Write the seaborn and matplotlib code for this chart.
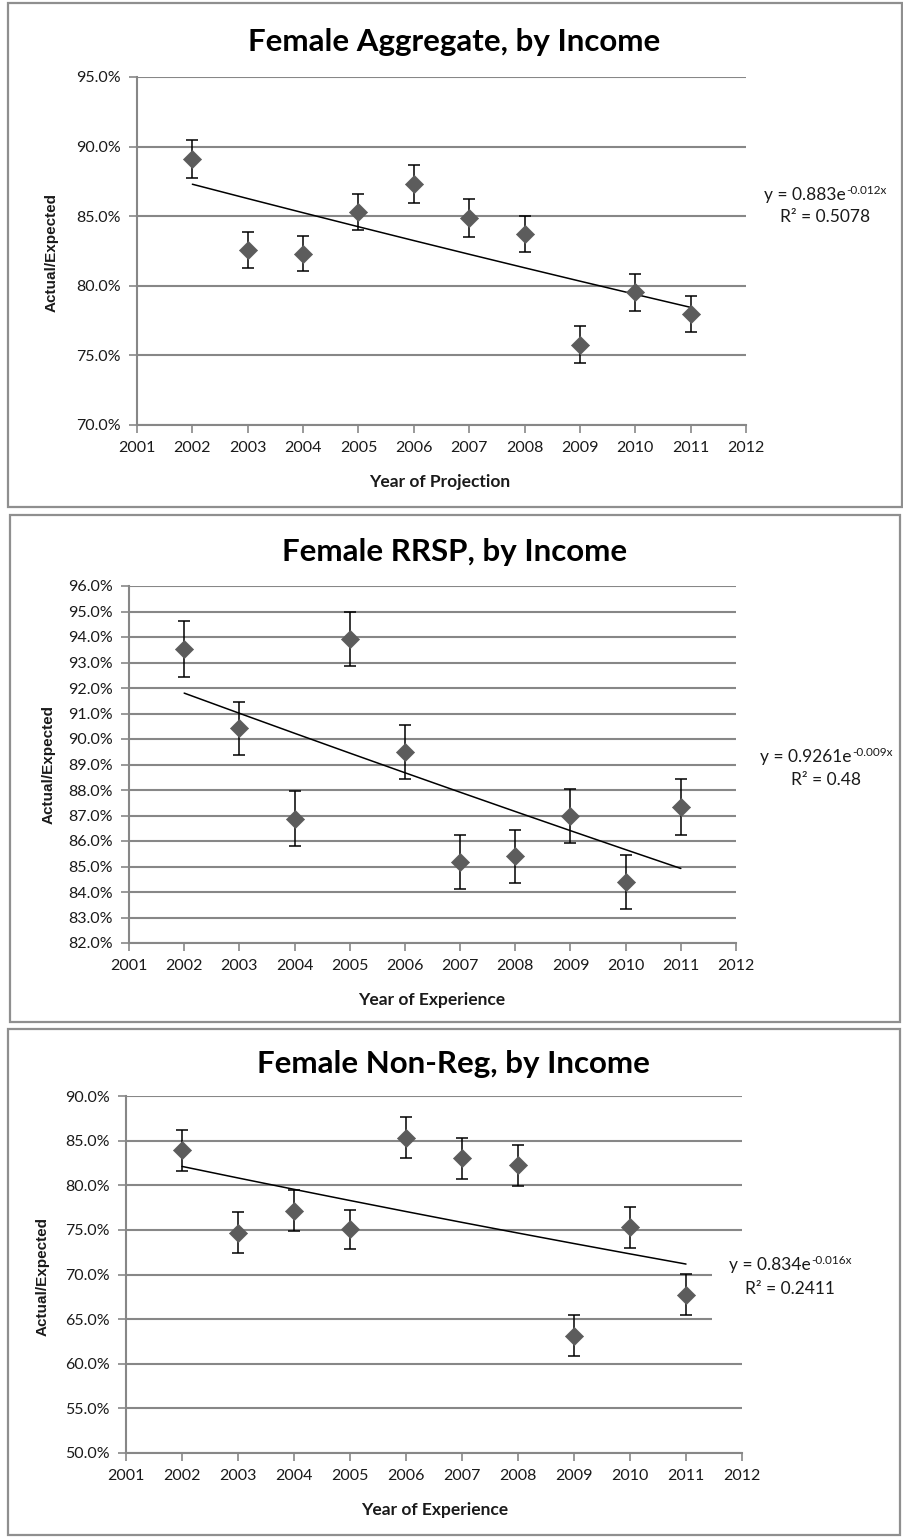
import numpy as np
import pandas as pd
import matplotlib
matplotlib.use("Agg")
import matplotlib.pyplot as plt
from matplotlib.patches import Rectangle
from matplotlib.ticker import FuncFormatter
import seaborn as sns

# ---------------- data ----------------
years = [2002, 2003, 2004, 2005, 2006, 2007, 2008, 2009, 2010, 2011]

agg_vals = [89.1, 82.6, 82.3, 85.3, 87.3, 84.85, 83.75, 75.75, 79.55, 78.0]
agg_err = [1.35, 1.3, 1.25, 1.3, 1.35, 1.35, 1.3, 1.33, 1.33, 1.3]

rrsp_vals = [93.52, 90.42, 86.87, 93.93, 89.5, 85.17, 85.4, 86.98, 84.4, 87.33]
rrsp_err = [1.1, 1.05, 1.08, 1.07, 1.06, 1.05, 1.05, 1.05, 1.07, 1.1]

nonreg_vals = [83.9, 74.7, 77.15, 75.05, 85.35, 83.05, 82.25, 63.15, 75.3, 67.75]
nonreg_err = [2.3, 2.3, 2.3, 2.2, 2.3, 2.3, 2.3, 2.3, 2.3, 2.3]

titles = ["Female Aggregate, by Income", "Female RRSP, by Income", "Female Non-Reg, by Income"]
xlabels = ["Year of Projection", "Year of Experience", "Year of Experience"]
ylabel = "Actual/Expected"
eq_main = ["y = 0.883e", "y = 0.9261e", "y = 0.834e"]
eq_sup = ["-0.012x", "-0.009x", "-0.016x"]
r2_texts = ["R² = 0.5078", "R² = 0.48", "R² = 0.2411"]
ylims = [(70, 95), (82, 96), (50, 90)]
ysteps = [5, 1, 5]
x_ticks = list(range(2001, 2013))

# ---------------- style ----------------
sns.set_theme(style="white")
plt.rcParams['font.family'] = ['Lato', 'DejaVu Sans']
plt.rcParams['axes.unicode_minus'] = False

W, H = 904, 1540
fig = plt.figure(figsize=(W / 100, H / 100), dpi=100)
fig.patch.set_facecolor('white')
renderer = fig.canvas.get_renderer()

GRID = '#878787'
TXT = '#1a1a1a'

def frac_rect(l, t, r, b):
    return [l / W, (H - b) / H, (r - l) / W, (b - t) / H]

def fx(x):
    return x / W

def fy(y):
    return (H - y) / H

axes_px = [(137, 77, 746, 425), (129, 586, 736, 943), (126, 1096, 742, 1453)]
boxes_px = [(8, 3, 902, 507), (10, 515, 900, 1022), (8, 1029, 900, 1535)]
title_pos = [(454, 42), (455, 552), (453, 1064)]
xlabel_pos = [(440, 482), (432, 1000), (435, 1510)]
ylabel_pos = [(52, 252), (49, 765), (43, 1277)]
eq_pos = [(825, 200, 217), (826, 762, 780), (790, 1270, 1289)]

datasets = [(agg_vals, agg_err), (rrsp_vals, rrsp_err), (nonreg_vals, nonreg_err)]

for i, (vals, errs) in enumerate(datasets):
    # panel border
    l, t, r, b = boxes_px[i]
    fig.patches.append(Rectangle((fx(l), fy(b)), fx(r) - fx(l), fy(t) - fy(b),
                                 transform=fig.transFigure, fill=False,
                                 edgecolor='#8f8f8f', linewidth=1.6, zorder=0.5))

    ax = fig.add_axes(frac_rect(*axes_px[i]))
    df = pd.DataFrame({'year': years, 'val': vals, 'err': errs})

    # exponential trendline (least squares on log values, as in Excel)
    idx = np.arange(1, len(years) + 1)
    k, lna = np.polyfit(idx, np.log(np.array(vals) / 100.0), 1)
    df['trend'] = np.exp(lna) * np.exp(k * idx) * 100.0

    ax.errorbar(df['year'], df['val'], yerr=df['err'], fmt='none', ecolor='black',
                elinewidth=1.1, capsize=4, capthick=1.1, zorder=3)
    sns.lineplot(data=df, x='year', y='trend', ax=ax, color='black', linewidth=1.1,
                 zorder=4, legend=False)
    sns.scatterplot(data=df, x='year', y='val', ax=ax, marker='D', s=85,
                    color='#5c5c5c', edgecolor='#5c5c5c', linewidth=0.5, zorder=5, legend=False)

    y0, y1 = ylims[i]
    ax.set_xlim(2001, 2012)
    ax.set_ylim(y0, y1)
    ax.set_xticks(x_ticks)
    ax.set_yticks(np.arange(y0, y1 + 0.001, ysteps[i]))
    ax.yaxis.set_major_formatter(FuncFormatter(lambda v, p: f"{v:.1f}%"))
    ax.grid(axis='y', color=GRID, linewidth=1.5)
    ax.grid(axis='x', visible=False)
    ax.set_axisbelow(True)
    for s in ['top', 'right']:
        ax.spines[s].set_visible(False)
    for s in ['left', 'bottom']:
        ax.spines[s].set_color(GRID)
        ax.spines[s].set_linewidth(1.5)
    ax.tick_params(axis='both', which='major', colors=GRID, labelcolor=TXT,
                   length=5.5, width=1.2, labelsize=11.5)
    ax.tick_params(axis='y', pad=6, left=True)
    ax.tick_params(axis='x', pad=6, bottom=True)
    ax.set_xlabel('')
    ax.set_ylabel('')

    # titles and labels (placed in figure pixels)
    tx, ty = title_pos[i]
    fig.text(fx(tx), fy(ty), titles[i], ha='center', va='center', fontsize=22.5,
             fontweight='bold', color='black')
    lx, ly = xlabel_pos[i]
    fig.text(fx(lx), fy(ly), xlabels[i], ha='center', va='center', fontsize=12.5,
             fontweight='bold', color=TXT)
    yx, yy = ylabel_pos[i]
    fig.text(fx(yx), fy(yy), ylabel, ha='center', va='center', rotation=90,
             fontsize=11, fontweight='bold', color=TXT,
             family=['Liberation Sans', 'DejaVu Sans'])

    ex, ey1, ey2 = eq_pos[i]
    if i == 2:
        fig.patches.append(Rectangle((fx(712), fy(1326)), fx(752) - fx(712), fy(1248) - fy(1326),
                                     transform=fig.transFigure, facecolor='white',
                                     edgecolor='none', zorder=1))
    t_main = fig.text(0, fy(ey1), eq_main[i], ha='left', va='baseline', fontsize=12.5,
                      color=TXT, zorder=3)
    t_sup = fig.text(0, fy(ey1 - 6), eq_sup[i], ha='left', va='baseline', fontsize=8.5,
                     color=TXT, zorder=3)
    w_main = t_main.get_window_extent(renderer).width
    w_sup = t_sup.get_window_extent(renderer).width
    left = ex - (w_main + w_sup) / 2
    t_main.set_x(fx(left))
    t_sup.set_x(fx(left + w_main + 0.5))
    fig.text(fx(ex), fy(ey2 + 5), r2_texts[i], ha='center', va='baseline', fontsize=12.5,
             color=TXT, zorder=3)

fig.savefig('out.png', dpi=100, facecolor='white')
